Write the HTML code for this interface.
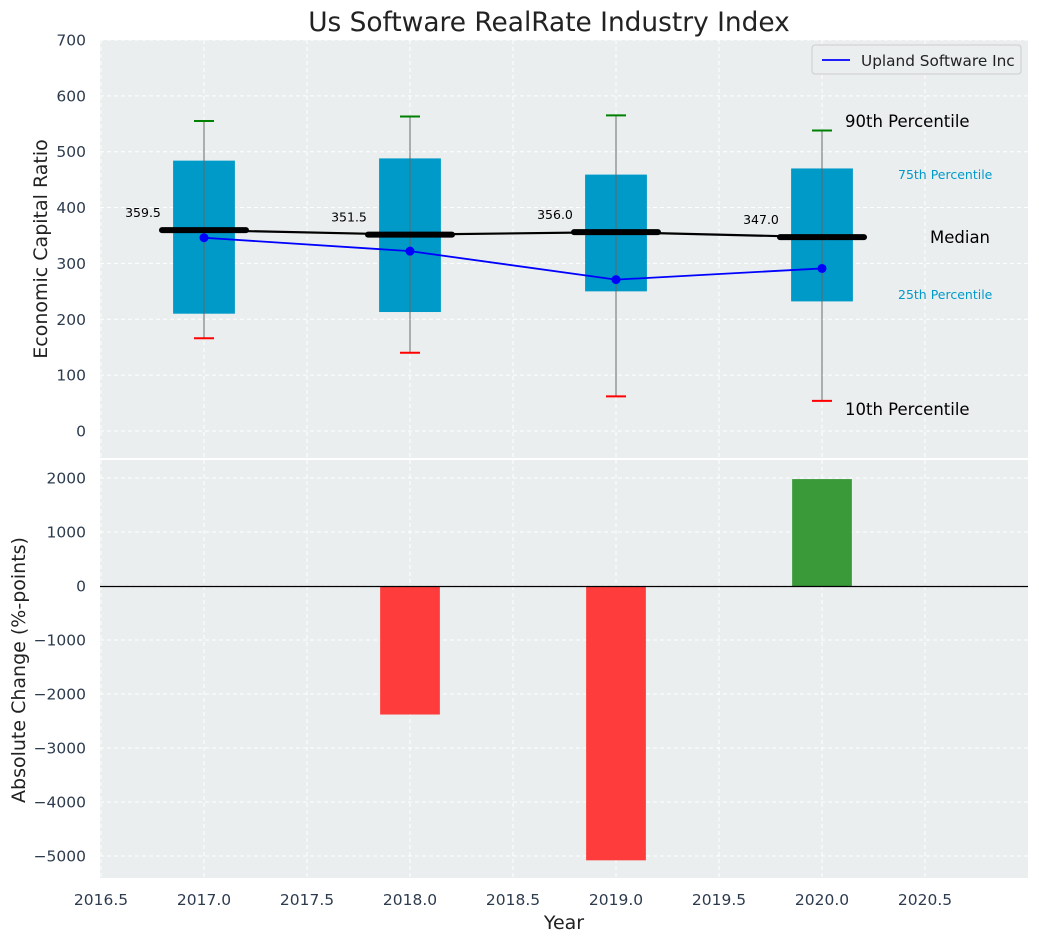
<!DOCTYPE html>
<html><head><meta charset="utf-8"><style>
body{margin:0;background:#fff;font-family:"DejaVu Sans","Liberation Sans",sans-serif;}
svg text{font-family:"DejaVu Sans","Liberation Sans",sans-serif;}
</style></head><body>
<svg id="c" width="1039" height="942" xmlns="http://www.w3.org/2000/svg"></svg>
<script>
const years=[2017,2018,2019,2020];
const p10=[166,140,62,54];
const p25=[210,213,250,232];
const medians=[359.5,351.5,356.0,347.0];
const p75=[484,488,459,470];
const p90=[555,563,565,538];
const companyVals=[346,322,271,291];
const changeVals=[0,-2380,-5080,1980];
const xTicks=[2016.5,2017,2017.5,2018,2018.5,2019,2019.5,2020,2020.5];
const yTicksTop=[0,100,200,300,400,500,600,700];
const yTicksBot=[-5000,-4000,-3000,-2000,-1000,0,1000,2000];

const NS="http://www.w3.org/2000/svg";
const svg=document.getElementById('c');
const L=100,R=1028,T1=40,B1=458,T2=460,B2=878;
const x=v=>101+(v-2016.5)*206;
const yT=v=>431-v*0.5586;
const yB=v=>586-v*0.054;
function el(tag,attrs,name,txt){const e=document.createElementNS(NS,tag);for(const k in attrs)e.setAttribute(k,attrs[k]);


if(txt!==undefined)e.textContent=txt;svg.appendChild(e);return e;}
el('rect',{x:L,y:T1,width:R-L,height:B1-T1,fill:'#eaeeef'},'top-plot-area');
el('rect',{x:L,y:T2,width:R-L,height:B2-T2,fill:'#eaeeef'},'bottom-plot-area');
xTicks.forEach(t=>{
 el('line',{x1:x(t),x2:x(t),y1:T1,y2:B1,stroke:'#fff','stroke-dasharray':'4,3','stroke-width':1},'x-grid-top');
 el('line',{x1:x(t),x2:x(t),y1:T2,y2:B2,stroke:'#fff','stroke-dasharray':'4,3','stroke-width':1},'x-grid-bottom');
 el('text',{x:x(t),y:905,'text-anchor':'middle','font-size':15.5,fill:'#2d3b4e'},'x-tick-label',t.toFixed(1));
});
yTicksTop.forEach(t=>{
 el('line',{x1:L,x2:R,y1:yT(t),y2:yT(t),stroke:'#fff','stroke-dasharray':'4,3'},'y-grid-top');
 el('text',{x:86,y:yT(t)+5.5,'text-anchor':'end','font-size':15.5,fill:'#2d3b4e'},'y-tick-label-top',String(t));
});
yTicksBot.forEach(t=>{
 el('line',{x1:L,x2:R,y1:yB(t),y2:yB(t),stroke:'#fff','stroke-dasharray':'4,3'},'y-grid-bottom');
 el('text',{x:86,y:yB(t)+5.5,'text-anchor':'end','font-size':15.5,fill:'#2d3b4e'},'y-tick-label-bottom',String(t).replace('-','\u2212'));
});
years.forEach((yr,i)=>{
 const cx=x(yr),hw=0.15*206;
 el('rect',{x:cx-hw,y:yT(p75[i]),width:2*hw,height:yT(p25[i])-yT(p75[i]),fill:'#009ac9'},'box-'+yr);
 el('line',{x1:cx,x2:cx,y1:yT(p90[i]),y2:yT(p10[i]),stroke:'#666','stroke-width':1.2,opacity:0.8},'whisker-'+yr);
 el('line',{x1:cx-10,x2:cx+10,y1:yT(p90[i]),y2:yT(p90[i]),stroke:'green','stroke-width':2},'p90-cap-'+yr);
 el('line',{x1:cx-10,x2:cx+10,y1:yT(p10[i]),y2:yT(p10[i]),stroke:'red','stroke-width':2},'p10-cap-'+yr);
});
el('polyline',{points:years.map((yr,i)=>x(yr)+','+yT(medians[i])).join(' '),fill:'none',stroke:'#000','stroke-width':2.2},'median-line');
years.forEach((yr,i)=>{
 const cx=x(yr);
 el('line',{x1:cx-42,x2:cx+42,y1:yT(medians[i]),y2:yT(medians[i]),stroke:'#000','stroke-width':6,'stroke-linecap':'round'},'median-bar-'+yr);
 el('text',{x:cx-61,y:yT(medians[i])-13,'text-anchor':'middle','font-size':12.5,fill:'#000'},'median-label-'+yr,medians[i].toFixed(1));
});
el('polyline',{points:years.map((yr,i)=>x(yr)+','+yT(companyVals[i])).join(' '),fill:'none',stroke:'#0000ff','stroke-width':1.8},'company-line');
years.forEach((yr,i)=>el('circle',{cx:x(yr),cy:yT(companyVals[i]),r:4.5,fill:'#0000ff'},'company-point-'+yr));
el('text',{x:845,y:127,'font-size':16.5,fill:'#000'},'p90-annotation','90th Percentile');
el('text',{x:898,y:179,'font-size':12.5,fill:'#009ac9'},'p75-annotation','75th Percentile');
el('text',{x:930,y:243,'font-size':16.5,fill:'#000'},'median-annotation','Median');
el('text',{x:898,y:299,'font-size':12.5,fill:'#009ac9'},'p25-annotation','25th Percentile');
el('text',{x:845,y:415,'font-size':16.5,fill:'#000'},'p10-annotation','10th Percentile');
el('rect',{x:812,y:45,width:209,height:29,rx:3,fill:'#eaeeef',stroke:'#ccc'},'legend');
el('line',{x1:822,x2:850,y1:60,y2:60,stroke:'#0000ff','stroke-width':1.8},'legend-swatch');
el('text',{x:861,y:66,'font-size':15.3,fill:'#222'},'legend-entry','Upland Software Inc');
years.forEach((yr,i)=>{
 const v=changeVals[i]; if(v===0)return;
 const hw=0.145*206;
 el('rect',{x:x(yr)-hw,y:Math.min(yB(v),yB(0)),width:2*hw,height:Math.abs(yB(v)-yB(0)),fill:v<0?'#ff3c3c':'#3a9a3a'},'change-bar-'+yr);
});
el('line',{x1:L,x2:R,y1:yB(0)+0.5,y2:yB(0)+0.5,stroke:'#000','stroke-width':1.2},'zero-line');
el('text',{x:549,y:31,'text-anchor':'middle','font-size':26.4,fill:'#222'},'chart-title','Us Software RealRate Industry Index');
el('text',{x:564,y:929,'text-anchor':'middle','font-size':19,fill:'#222'},'x-axis-title','Year');
el('text',{x:0,y:0,transform:'translate(47,249) rotate(-90)','text-anchor':'middle','font-size':19,fill:'#222'},'y-axis-title-top','Economic Capital Ratio');
el('text',{x:0,y:0,transform:'translate(25,670) rotate(-90)','text-anchor':'middle','font-size':19,fill:'#222'},'y-axis-title-bottom','Absolute Change (%-points)');
</script>
</body></html>
